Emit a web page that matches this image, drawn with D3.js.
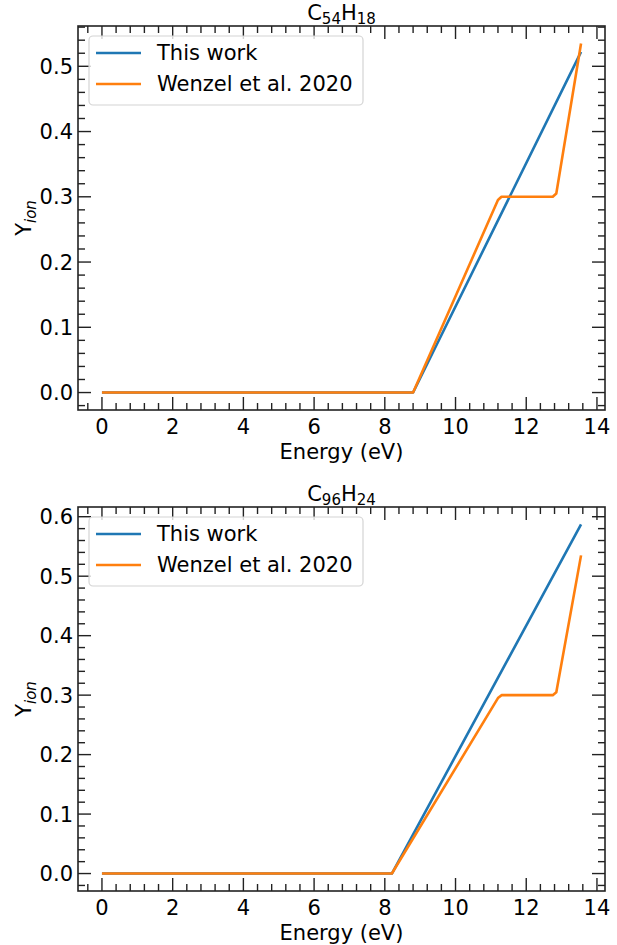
<!DOCTYPE html>
<html>
<head>
<meta charset="utf-8">
<script src="https://cdn.jsdelivr.net/npm/d3@7"></script>
<style>
  body { margin: 0; background: #fff; }
  svg { display: block; }
  text { font-family: "DejaVu Sans", "Liberation Sans", sans-serif; fill: #000; }
</style>
</head>
<body>
<svg id="fig" width="617" height="945"></svg>
<script>
// Ionisation yield vs photon energy, two PAH molecules
const c54Energy_thisWork = [0, 8.8, 13.55];
const c54Yield_thisWork  = [0, 0, 0.522];
const c54Energy_wenzel   = [0, 8.8, 11.2, 11.3, 12.75, 12.85, 13.55];
const c54Yield_wenzel    = [0, 0, 0.295, 0.3, 0.3, 0.305, 0.535];

const c96Energy_thisWork = [0, 8.2, 13.55];
const c96Yield_thisWork  = [0, 0, 0.587];
const c96Energy_wenzel   = [0, 8.2, 11.2, 11.3, 12.75, 12.85, 13.55];
const c96Yield_wenzel    = [0, 0, 0.295, 0.3, 0.3, 0.305, 0.535];

const seriesNames  = ["This work", "Wenzel et al. 2020"];
const seriesColors = ["#1f77b4", "#ff7f0e"];

const xTicks    = [0, 2, 4, 6, 8, 10, 12, 14];
const c54YTicks = [0.0, 0.1, 0.2, 0.3, 0.4, 0.5];
const c96YTicks = [0.0, 0.1, 0.2, 0.3, 0.4, 0.5, 0.6];

// title pieces: [text, isSubscript]
const c54Title = [["C", false], ["54", true], ["H", false], ["18", true]];
const c96Title = [["C", false], ["96", true], ["H", false], ["24", true]];

const zip = (xs, ys) => xs.map((x, i) => ({ x, y: ys[i] }));

const panels = [
  {
    title: c54Title, yTicks: c54YTicks,
    series: [zip(c54Energy_thisWork, c54Yield_thisWork), zip(c54Energy_wenzel, c54Yield_wenzel)],
    box: { left: 78, right: 605, top: 26, bottom: 410 }
  },
  {
    title: c96Title, yTicks: c96YTicks,
    series: [zip(c96Energy_thisWork, c96Yield_thisWork), zip(c96Energy_wenzel, c96Yield_wenzel)],
    box: { left: 78, right: 605, top: 507, bottom: 891 }
  }
];

const FS = 21;            // base font size
const SUB = 15;           // subscript font size
const MAJOR = 13, MINOR = 7;
const svg = d3.select("#fig");

// matplotlib-like 5% padding around the data range
function padded(lo, hi) {
  const m = (hi - lo) * 0.05;
  return [lo - m, hi + m];
}

panels.forEach(p => {
  const b = p.box;
  const all = p.series.flat();
  const x = d3.scaleLinear().domain(padded(d3.min(all, d => d.x), d3.max(all, d => d.x))).range([b.left, b.right]);
  const y = d3.scaleLinear().domain(padded(d3.min(all, d => d.y), d3.max(all, d => d.y))).range([b.bottom, b.top]);
  const g = svg.append("g");

  // data lines
  const line = d3.line().x(d => x(d.x)).y(d => y(d.y));
  p.series.forEach((s, i) => {
    g.append("path").datum(s)
      .attr("d", line)
      .attr("fill", "none")
      .attr("stroke", seriesColors[i])
      .attr("stroke-width", 2.6)
      .attr("stroke-linejoin", "round")
      .attr("stroke-linecap", "butt");
  });

  // ticks (inward, on all four sides)
  const [x0, x1] = x.domain();
  const [y0, y1] = y.domain();
  const xMinor = d3.range(Math.ceil(x0 / 0.4) * 0.4, x1, 0.4).filter(v => Math.abs(v / 2 - Math.round(v / 2)) > 1e-6);
  const yMinor = d3.range(Math.ceil(y0 / 0.02) * 0.02, y1, 0.02).filter(v => Math.abs(v / 0.1 - Math.round(v / 0.1)) > 1e-6);
  const tickG = g.append("g").attr("stroke", "#222").attr("stroke-width", 1.4);
  const xTickList = xTicks.map(v => [v, MAJOR]).concat(xMinor.map(v => [v, MINOR]));
  const yTickList = p.yTicks.map(v => [v, MAJOR]).concat(yMinor.map(v => [v, MINOR]));
  xTickList.forEach(([v, len]) => {
    const px = x(v);
    tickG.append("line").attr("x1", px).attr("x2", px).attr("y1", b.bottom).attr("y2", b.bottom - len);
    tickG.append("line").attr("x1", px).attr("x2", px).attr("y1", b.top).attr("y2", b.top + len);
  });
  yTickList.forEach(([v, len]) => {
    const py = y(v);
    tickG.append("line").attr("y1", py).attr("y2", py).attr("x1", b.left).attr("x2", b.left + len);
    tickG.append("line").attr("y1", py).attr("y2", py).attr("x1", b.right).attr("x2", b.right - len);
  });

  // frame
  g.append("rect")
    .attr("x", b.left).attr("y", b.top)
    .attr("width", b.right - b.left).attr("height", b.bottom - b.top)
    .attr("fill", "none").attr("stroke", "#222").attr("stroke-width", 1.6);

  // tick labels
  xTicks.forEach(v => {
    g.append("text").attr("x", x(v)).attr("y", b.bottom + 24)
      .attr("text-anchor", "middle").attr("font-size", FS).text(d3.format("d")(v));
  });
  p.yTicks.forEach(v => {
    g.append("text").attr("x", b.left - 5).attr("y", y(v)).attr("dy", "0.36em")
      .attr("text-anchor", "end").attr("font-size", FS).text(d3.format(".1f")(v));
  });

  // axis labels
  g.append("text").attr("x", (b.left + b.right) / 2).attr("y", b.bottom + 49)
    .attr("text-anchor", "middle").attr("font-size", FS).text("Energy (eV)");
  const yl = g.append("text")
    .attr("transform", `translate(31,${(b.top + b.bottom) / 2}) rotate(-90)`)
    .attr("text-anchor", "middle").attr("font-size", FS);
  yl.append("tspan").text("Y");
  yl.append("tspan").attr("font-size", SUB).attr("font-style", "italic").attr("dy", 4.5).text("ion");

  // title
  const t = g.append("text").attr("x", (b.left + b.right) / 2).attr("y", b.top - 6)
    .attr("text-anchor", "middle").attr("font-size", FS);
  let shifted = false;
  p.title.forEach(([s, sub]) => {
    const ts = t.append("tspan").text(s);
    if (sub) { ts.attr("font-size", SUB); if (!shifted) { ts.attr("dy", 4); shifted = true; } }
    else if (shifted) { ts.attr("dy", -4); shifted = false; }
  });

  // legend
  const lx = b.left + 11, ly = b.top + 10;
  const lg = g.append("g");
  lg.append("rect").attr("x", lx).attr("y", ly).attr("width", 274).attr("height", 69)
    .attr("rx", 4).attr("fill", "#fff").attr("fill-opacity", 0.8)
    .attr("stroke", "#d4d4d4").attr("stroke-width", 1.2);
  seriesNames.forEach((name, i) => {
    const cy = ly + 17 + i * 31;
    lg.append("line").attr("x1", lx + 7).attr("x2", lx + 52).attr("y1", cy).attr("y2", cy)
      .attr("stroke", seriesColors[i]).attr("stroke-width", 2.6);
    lg.append("text").attr("x", lx + 68).attr("y", cy + 7).attr("font-size", FS).text(name);
  });
});
</script>
</body>
</html>
